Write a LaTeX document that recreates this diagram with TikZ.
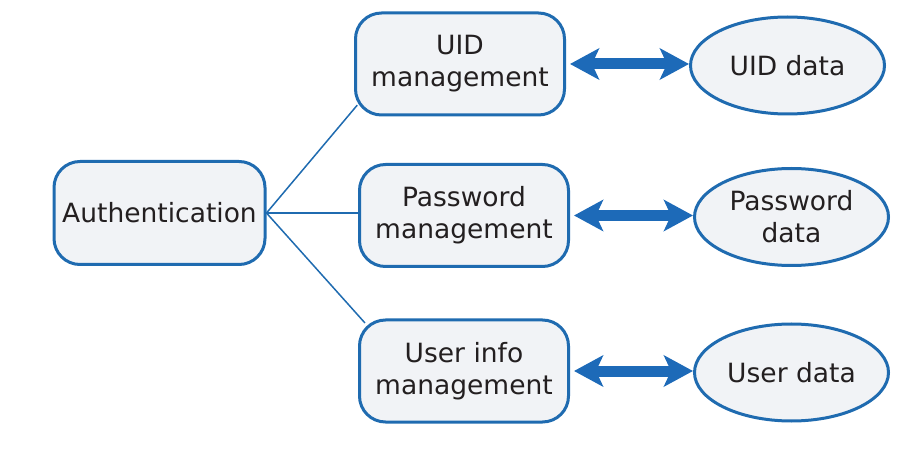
\documentclass[tikz,border=0pt]{standalone}
\usepackage{fontspec}
\setmainfont{DejaVu Sans}
\usepackage{xcolor}
\usetikzlibrary{arrows.meta,shapes.geometric}
\definecolor{BleuTrait}{HTML}{1F6BB0}
\definecolor{BleuFleche}{HTML}{1D6AB8}
\definecolor{FondBoite}{HTML}{F1F3F6}
\definecolor{Encre}{HTML}{231F20}
\tikzset{
Boite/.style={
 rectangle,
 rounded corners=26pt,
 draw=BleuTrait,
 line width=3pt,
 fill=FondBoite,
 text=Encre,
 align=center,
 minimum width=209pt,
 minimum height=102pt,
 font=\fontsize{26.5}{32}\selectfont
 },
Bulle/.style={
 ellipse,
 draw=BleuTrait,
 line width=3pt,
 fill=FondBoite,
 text=Encre,
 align=center,
 inner sep=0pt,
 minimum width=194pt,
 minimum height=97pt,
 font=\fontsize{26.5}{32}\selectfont
 },
Lien/.style={
 draw=BleuTrait,
 line width=1.5pt
 },
GrosseFleche/.style={
 draw=BleuFleche,
 line width=11pt,
 {Stealth[length=29pt,width=31pt,inset=7pt]}-{Stealth[length=29pt,width=31pt,inset=7pt]},
 shorten <=4pt
 }
}
\begin{document}
\begin{tikzpicture}[x=1pt,y=-1pt]
\useasboundingbox (0,0) rectangle (903,457);
\node[Boite,minimum width=211pt,minimum height=103pt] (auth) at (159.5,213) {Authentication};
\node[Boite] (uid) at (460,64) {UID\\management};
\node[Boite] (pwd) at (464,215.5) {Password\\management};
\node[Boite] (info) at (464,371) {User info\\management};
\node[Bulle] (uiddata) at (787.5,65.5) {UID data};
\node[Bulle] (pwddata) at (791.5,217) {Password\\data};
\node[Bulle] (infodata) at (791.5,372.5) {User data};
\draw[Lien,shorten >=-5pt] (auth.east) -- (uid.203);
\draw[Lien] (auth.east) -- (auth.east -| pwd.west);
\draw[Lien,shorten >=-6pt] (auth.east) -- (info.153);
\draw[GrosseFleche] (uid.east) -- (uid.east -| uiddata.west);
\draw[GrosseFleche] (pwd.east) -- (pwd.east -| pwddata.west);
\draw[GrosseFleche] (info.east) -- (info.east -| infodata.west);
\end{tikzpicture}
\end{document}
